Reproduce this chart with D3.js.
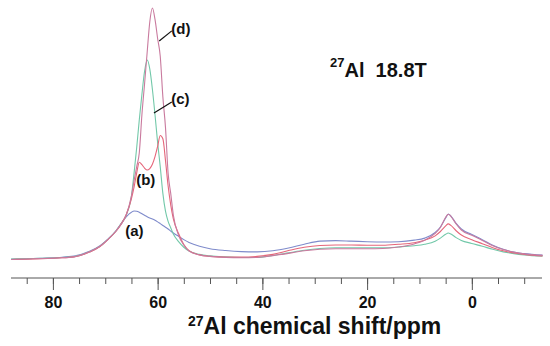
<!DOCTYPE html>
<html>
<head>
<meta charset="utf-8">
<script src="https://cdn.jsdelivr.net/npm/d3@7"></script>
<style>
  body { margin: 0; background: #fff; }
  svg { display: block; font-family: "Liberation Sans", Arial, sans-serif; }
</style>
</head>
<body>
<svg id="chart" width="550" height="346"></svg>
<script>
// chemical shift grid (ppm)
var ppm = [88, 85, 82, 79, 76, 73, 71, 69.5, 68, 67,
  66, 65, 64.5, 64, 63.5, 63, 62.5, 62, 61.5, 61,
  60.5, 60, 59.5, 59, 58.5, 58, 57.5, 57, 56, 55,
  54, 52, 50, 47, 44, 41, 38, 35, 32, 29,
  26, 23, 20, 17, 14, 11, 9, 7, 6, 5,
  4.5, 4, 3, 2, 0, -2, -4, -6, -8, -10, -13.5];

// intensities (arb. units)
var seriesA = [1.1, 1.3, 1.5, 1.8, 2.3, 4.2, 6.4, 9.0, 12.2, 15.0,
  17.8, 19.6, 20.1, 20.0, 19.6, 19.0, 18.4, 17.8, 17.3, 16.9,
  16.4, 15.8, 15.1, 14.4, 13.7, 13.0, 12.2, 11.4, 10.1, 8.8,
  7.7, 6.2, 5.2, 4.5, 4.1, 4.0, 4.4, 5.5, 7.0, 8.2,
  8.4, 8.2, 8.0, 7.9, 8.0, 8.6, 9.4, 11.6, 13.8, 17.3,
  18.9, 18.1, 15.2, 13.0, 10.8, 8.8, 6.6, 5.0, 3.9, 3.3, 2.7];
var seriesB = [1.0, 1.1, 1.3, 1.6, 2.0, 3.9, 6.1, 8.8, 12.0, 14.8,
  18.6, 25.0, 29.5, 35.0, 39.3, 38.3, 37.0, 36.2, 36.8, 38.5,
  41.5, 45.5, 49.8, 48.5, 40.0, 30.0, 22.5, 17.0, 11.2, 6.9,
  4.5, 2.8, 2.2, 1.9, 1.9, 2.2, 3.0, 4.5, 5.8, 6.5,
  6.7, 6.7, 6.6, 6.6, 7.0, 7.6, 8.6, 10.3, 12.0, 14.2,
  15.0, 14.4, 12.3, 10.6, 8.8, 7.2, 5.6, 4.4, 3.6, 3.0, 2.4];
var seriesC = [1.2, 1.3, 1.5, 1.7, 2.1, 4.0, 6.2, 8.9, 12.1, 15.0,
  18.5, 26.0, 35.0, 45.0, 56.0, 66.0, 75.0, 79.5, 76.0, 68.0,
  58.0, 47.0, 37.5, 27.0, 20.0, 16.0, 13.5, 11.0, 8.0, 5.8,
  4.3, 3.0, 2.4, 2.0, 1.8, 1.8, 2.6, 3.6, 4.6, 5.3,
  5.6, 5.6, 5.6, 5.6, 5.9, 6.4, 7.0, 8.2, 9.4, 10.9,
  11.4, 11.0, 9.6, 8.5, 7.3, 6.2, 5.0, 4.0, 3.3, 2.8, 2.3];
var seriesD = [1.0, 1.2, 1.4, 1.6, 2.0, 4.0, 6.2, 8.8, 12.0, 14.8,
  18.5, 26.0, 32.0, 37.5, 43.0, 58.0, 70.0, 82.5, 94.5, 100,
  95.5, 88.0, 81.0, 65.0, 53.0, 35.0, 27.0, 18.5, 10.5, 6.7,
  4.3, 2.8, 2.2, 1.8, 1.7, 1.8, 2.5, 3.4, 4.4, 5.0,
  5.2, 5.2, 5.2, 5.3, 5.9, 7.1, 8.6, 11.3, 13.6, 17.6,
  18.8, 18.0, 15.0, 12.6, 10.5, 8.5, 6.4, 4.9, 3.9, 3.2, 2.6];

var seriesNames = ["(a)", "(b)", "(c)", "(d)"];
var seriesColors = ["#7f8bcb", "#e5667a", "#72c8a9", "#c97a9e"];
var tickValues = [80, 60, 40, 20, 0];
var minorTicks = [85, 80, 75, 70, 65, 60, 55, 50, 45, 40, 35, 30, 25, 20, 15, 10, 5, 0, -5, -10];

var svg = d3.select("#chart");

var x = d3.scaleLinear().domain([88, -13.4]).range([11, 542]);
var y = d3.scaleLinear().domain([0, 100]).range([262, 8]);

var line = d3.line()
    .x(function (d) { return x(d[0]); })
    .y(function (d) { return y(d[1]); })
    .curve(d3.curveMonotoneX);

var allSeries = [seriesA, seriesC, seriesB, seriesD];
var colorIdx = [0, 2, 1, 3];
allSeries.forEach(function (vals, i) {
    svg.append("path")
        .datum(ppm.map(function (p, j) { return [p, vals[j]]; }))
        .attr("fill", "none")
        .attr("stroke", seriesColors[colorIdx[i]])
        .attr("stroke-width", 1.1)
        .attr("d", line);
});

// x axis
var axisY = 278;
var gx = svg.append("g").attr("transform", "translate(0," + axisY + ")");
gx.call(d3.axisBottom(x).tickValues(minorTicks).tickSize(6).tickFormat(""));
gx.call(function (g) {
    g.select(".domain").attr("stroke", "#555").attr("d", "M11,0H542");
    g.selectAll(".tick line").attr("stroke", "#555");
});
var gmaj = svg.append("g").attr("transform", "translate(0," + axisY + ")");
gmaj.call(d3.axisBottom(x).tickValues(tickValues).tickSize(12).tickPadding(7));
gmaj.call(function (g) {
    g.select(".domain").remove();
    g.selectAll(".tick line").attr("stroke", "#555");
    g.selectAll(".tick text")
        .attr("fill", "#111")
        .attr("font-size", "16px")
        .attr("font-weight", "bold")
        .attr("font-family", "Liberation Sans, Arial, sans-serif");
});

// axis title
var xt = svg.append("text")
    .attr("x", 188)
    .attr("y", 334)
    .attr("font-size", "23px")
    .attr("font-weight", "bold")
    .attr("fill", "#111");
xt.append("tspan").attr("font-size", "14px").attr("dy", "-8").text("27");
xt.append("tspan").attr("dy", "8").text("Al chemical shift/ppm");

// chart title
var tt = svg.append("text")
    .attr("x", 330)
    .attr("y", 77)
    .attr("font-size", "20px")
    .attr("font-weight", "bold")
    .attr("fill", "#111")
    .style("white-space", "pre");
tt.append("tspan").attr("font-size", "13px").attr("dy", "-10").text("27");
tt.append("tspan").attr("dy", "10").text("Al  18.8T");

// series labels
var labels = [
    { name: seriesNames[3], p: 57.4, v: 89.8 },
    { name: seriesNames[2], p: 57.4, v: 62.2 },
    { name: seriesNames[1], p: 64.1, v: 30.3 },
    { name: seriesNames[0], p: 66.2, v: 10.2 }
];
svg.selectAll("text.lab")
    .data(labels)
    .enter().append("text")
    .attr("class", "lab")
    .attr("x", function (d) { return x(d.p); })
    .attr("y", function (d) { return y(d.v); })
    .attr("font-size", "15px")
    .attr("font-weight", "bold")
    .attr("fill", "#111")
    .text(function (d) { return d.name; });

// leader lines for (d) and (c)
var leaders = [
    { p1: 59.7, v1: 87.0, p2: 57.3, v2: 91.0 },
    { p1: 60.7, v1: 58.7, p2: 57.3, v2: 63.0 }
];
svg.selectAll("line.lead")
    .data(leaders)
    .enter().append("line")
    .attr("class", "lead")
    .attr("x1", function (d) { return x(d.p1); })
    .attr("y1", function (d) { return y(d.v1); })
    .attr("x2", function (d) { return x(d.p2); })
    .attr("y2", function (d) { return y(d.v2); })
    .attr("stroke", "#111")
    .attr("stroke-width", 1.2);
</script>
</body>
</html>
